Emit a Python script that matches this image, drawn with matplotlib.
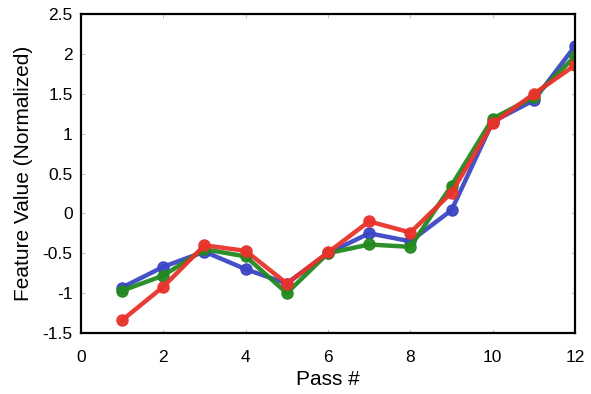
import numpy as np
import matplotlib.pyplot as plt

plt.rcParams['font.family'] = ['Liberation Sans', 'DejaVu Sans']

passes = [1, 2, 3, 4, 5, 6, 7, 8, 9, 10, 11, 12]
blue_vals = [-0.93, -0.67, -0.48, -0.70, -0.88, -0.50, -0.25, -0.35, 0.04, 1.15, 1.42, 2.10]
green_vals = [-0.97, -0.78, -0.45, -0.54, -1.00, -0.50, -0.39, -0.42, 0.35, 1.19, 1.46, 1.97]
red_vals = [-1.34, -0.92, -0.40, -0.47, -0.88, -0.49, -0.10, -0.24, 0.26, 1.13, 1.50, 1.86]

xticks = [0, 2, 4, 6, 8, 10, 12]
yticks = [-1.5, -1, -0.5, 0, 0.5, 1, 1.5, 2, 2.5]
ytick_labels = ['-1.5', '-1', '-0.5', '0', '0.5', '1', '1.5', '2', '2.5']

fig = plt.figure(figsize=(5.91, 3.94), dpi=100)
ax = fig.add_axes([0.137, 0.155, 0.836, 0.809])

# three series, red drawn last (on top)
for vals, col in [(blue_vals, '#3c46c4'), (green_vals, '#22891f'), (red_vals, '#e8332b')]:
    ax.plot(passes, vals, color=col, lw=3.2, marker='o', ms=8, alpha=0.95)

ax.set_xlim(0, 12)
ax.set_ylim(-1.5, 2.5)
ax.set_xticks(xticks)
ax.set_yticks(yticks)
ax.set_yticklabels(ytick_labels)
ax.tick_params(direction='in', top=True, right=True, length=3, width=0.6,
               labelsize=12.5, colors='#bbbbbb', labelcolor='black')
ax.tick_params(axis='y', pad=6)
ax.tick_params(axis='x', pad=12)
for sp in ax.spines.values():
    sp.set_linewidth(1.6)

ax.set_xlabel('Pass #', fontsize=15, labelpad=4)
ax.set_ylabel('Feature Value (Normalized)', fontsize=15, labelpad=7)

fig.savefig('out.png', dpi=100)
